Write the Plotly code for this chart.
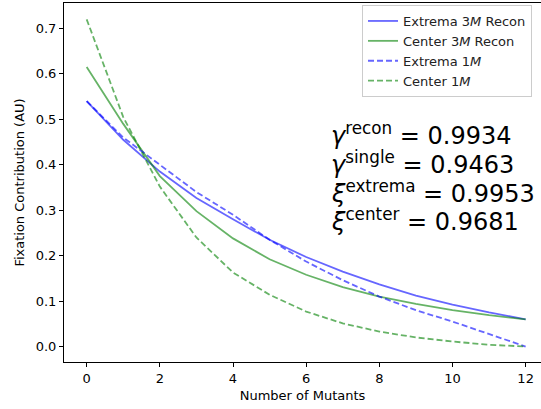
import plotly.graph_objects as go

mutants = list(range(13))
extrema_recon = [0.54, 0.455, 0.385, 0.327, 0.28, 0.235, 0.197, 0.165, 0.137, 0.112, 0.092, 0.075, 0.06]
center_recon = [0.615, 0.49, 0.375, 0.298, 0.238, 0.192, 0.158, 0.131, 0.11, 0.094, 0.08, 0.069, 0.06]
extrema_single = [0.54, 0.46, 0.40, 0.34, 0.29, 0.235, 0.187, 0.146, 0.11, 0.08, 0.055, 0.027, 0.0]
center_single = [0.72, 0.505, 0.352, 0.24, 0.163, 0.114, 0.077, 0.051, 0.033, 0.02, 0.011, 0.004, 0.0]

stats_lines = [
    "<i>γ</i><sup>recon</sup> = 0.9934",
    "<i>γ</i><sup>single</sup> = 0.9463",
    "<i>ξ</i><sup>extrema</sup> = 0.9953",
    "<i>ξ</i><sup>center</sup> = 0.9681",
]

BLUE = "rgba(0,0,255,0.6)"
GREEN = "rgba(0,128,0,0.6)"
FONT = "DejaVu Sans"

fig = go.Figure()
fig.add_trace(go.Scatter(x=mutants, y=extrema_recon, mode="lines", name="Extrema 3<i>M</i> Recon",
                         line=dict(color=BLUE, width=1.8)))
fig.add_trace(go.Scatter(x=mutants, y=center_recon, mode="lines", name="Center 3<i>M</i> Recon",
                         line=dict(color=GREEN, width=1.8)))
fig.add_trace(go.Scatter(x=mutants, y=extrema_single, mode="lines", name="Extrema 1<i>M</i>",
                         line=dict(color=BLUE, width=1.8, dash="6px,3px")))
fig.add_trace(go.Scatter(x=mutants, y=center_single, mode="lines", name="Center 1<i>M</i>",
                         line=dict(color=GREEN, width=1.8, dash="6px,3px")))

L, T, B, W, H = 64, 3, 47, 541, 409
plot_h = H - T - B
plot_w = W - L

def py(Y):
    return (H - B - Y) / plot_h

def px(X):
    return (X - L) / plot_w

baselines = [146, 175, 203.5, 232]
for txt, yb in zip(stats_lines, baselines):
    fig.add_annotation(text=txt, xref="paper", yref="paper", x=px(329), y=py(yb + 6),
                       xanchor="left", yanchor="bottom", showarrow=False,
                       font=dict(family=FONT, size=24, color="black"), align="left")

fig.update_layout(
    width=W, height=H,
    margin=dict(l=L, r=0, t=T, b=B),
    paper_bgcolor="white", plot_bgcolor="white",
    font=dict(family=FONT, size=13, color="black"),
    showlegend=True,
    legend=dict(x=px(362), y=py(5), xanchor="left", yanchor="top",
                bgcolor="rgba(255,255,255,0.8)", bordercolor="#cccccc", borderwidth=1,
                font=dict(family=FONT, size=13, color="#222222"), tracegroupgap=0),
    xaxis=dict(range=[-0.62, 12.42], tickvals=[0, 2, 4, 6, 8, 10, 12],
               showgrid=False, zeroline=False, showline=True, linecolor="black", linewidth=1,
               mirror=True, ticks="outside", ticklen=4, tickwidth=1, tickcolor="black",
               title=dict(text="Number of Mutants", standoff=6, font=dict(size=13))),
    yaxis=dict(range=[-0.034, 0.756], tickvals=[0, 0.1, 0.2, 0.3, 0.4, 0.5, 0.6, 0.7],
               tickformat=".1f",
               showgrid=False, zeroline=False, showline=True, linecolor="black", linewidth=1,
               ticks="outside", ticklen=4, tickwidth=1, tickcolor="black",
               title=dict(text="Fixation Contribution (AU)", standoff=8, font=dict(size=13))),
)

fig.write_html("out.html")
